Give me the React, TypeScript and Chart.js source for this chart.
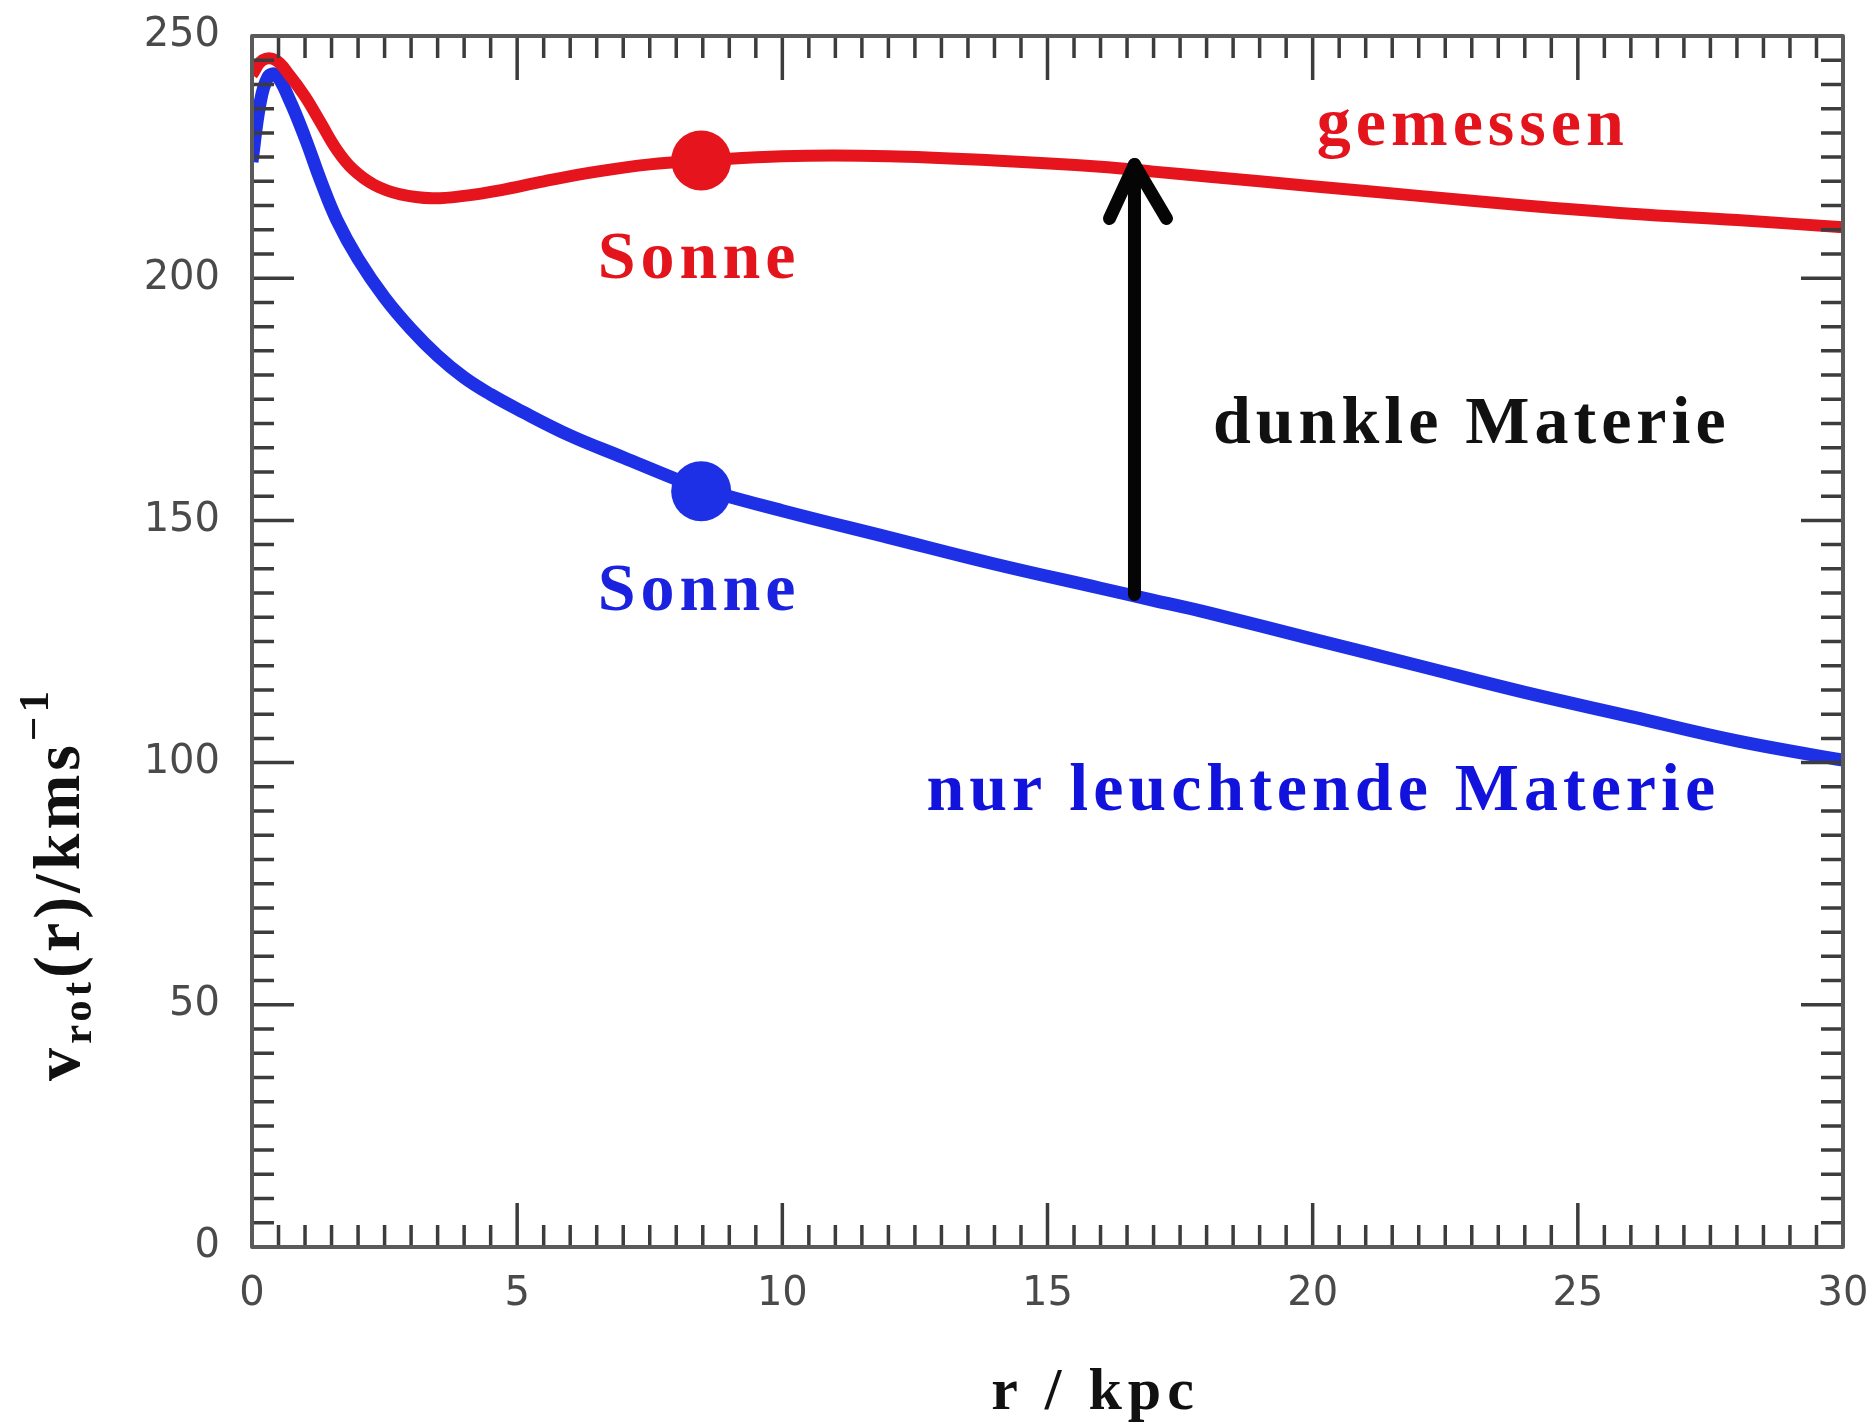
import { useEffect, useRef } from "react";
import { Chart, registerables } from "chart.js";

Chart.register(...registerables);

// ---- data (r in kpc, v in km/s) ----
const measuredR = [0, 0.2, 0.45, 0.7, 1.0, 1.3, 1.6, 1.9, 2.3, 2.8, 3.4, 4.0, 4.7, 5.5, 6.5, 7.5, 8.5, 10, 12, 14, 16, 17, 18, 20, 22, 24, 26, 28, 30];
const measuredV = [242, 245, 245, 242, 237.5, 232, 226.5, 222.5, 219.3, 217.3, 216.5, 217, 218.2, 220, 222, 223.5, 224.3, 225.2, 225.2, 224.3, 223, 222, 221, 219, 217, 215, 213.3, 212, 210.5];

const luminousR = [0, 0.15, 0.3, 0.45, 0.7, 1.0, 1.3, 1.6, 2.0, 2.5, 3.0, 3.5, 4.0, 4.5, 5, 6, 7, 8, 8.5, 10, 12, 14, 16, 17, 18, 20, 22, 24, 26, 28, 30];
const luminousV = [224, 236, 241.5, 242, 237, 229, 220, 212, 204, 196, 189.5, 184, 179.5, 176, 173, 167.5, 163, 158.5, 156.5, 152, 146.5, 141, 136, 133.5, 131, 125.5, 120, 114.5, 109.5, 104.5, 100.5];

const sunR = 8.47;
const sunMeasuredV = 224.3;
const sunLuminousV = 156;

const darkArrowR = 16.64;
const darkArrowFromV = 134.7;
const darkArrowToV = 224.3;

const xTicks = [0, 5, 10, 15, 20, 25, 30];
const yTicks = [0, 50, 100, 150, 200, 250];
const xTickLabels = ["0", "5", "10", "15", "20", "25", "30"];
const yTickLabels = ["0", "50", "100", "150", "200", "250"];
const xMinorStep = 0.5;
const yMinorStep = 5;

const labelTexts = ["gemessen", "Sonne", "dunkle Materie", "Sonne", "nur leuchtende Materie"];
const labelR = [23.02, 8.43, 23.0, 8.43, 20.2];
const labelV = [227.5, 200.0, 166.0, 131.5, 90.2];
const labelColors = ["#e3141c", "#e3141c", "#111111", "#1a22e0", "#1212dd"];

const RED = "#e6141c";
const BLUE = "#1e30e6";

const W = 1876;
const H = 1426;

const decorPlugin = {
  id: "decor",
  afterDatasetsDraw(chart: any) {
    const { ctx, chartArea: a, scales } = chart;
    const x = scales.x;
    const y = scales.y;
    ctx.save();
    // arrow (dunkle Materie)
    const ax = x.getPixelForValue(darkArrowR);
    const ay0 = y.getPixelForValue(darkArrowFromV);
    const ay1 = y.getPixelForValue(darkArrowToV);
    ctx.strokeStyle = "#050505";
    ctx.lineWidth = 13;
    ctx.lineCap = "round";
    ctx.lineJoin = "round";
    ctx.beginPath();
    ctx.moveTo(ax, ay0);
    ctx.lineTo(ax, ay1 + 4);
    ctx.stroke();
    ctx.beginPath();
    ctx.moveTo(ax - 25, ay1 + 58);
    ctx.lineTo(ax, ay1 + 4);
    ctx.lineTo(ax + 32, ay1 + 58);
    ctx.stroke();

    // ticks on all four sides, pointing inwards
    ctx.lineCap = "butt";
    ctx.strokeStyle = "#3c3c3c";
    ctx.lineWidth = 3.5;
    const nx = Math.round((x.max - x.min) / xMinorStep);
    for (let i = 0; i <= nx; i++) {
      const v = x.min + i * xMinorStep;
      const major = xTicks.includes(v);
      const len = major ? 44 : 22;
      const px = x.getPixelForValue(v);
      ctx.beginPath();
      ctx.moveTo(px, a.bottom);
      ctx.lineTo(px, a.bottom - len);
      ctx.moveTo(px, a.top);
      ctx.lineTo(px, a.top + len);
      ctx.stroke();
    }
    const ny = Math.round((y.max - y.min) / yMinorStep);
    for (let i = 0; i <= ny; i++) {
      const v = y.min + i * yMinorStep;
      const major = yTicks.includes(v);
      const len = major ? 42 : 22;
      const py = y.getPixelForValue(v);
      ctx.beginPath();
      ctx.moveTo(a.left, py);
      ctx.lineTo(a.left + len, py);
      ctx.moveTo(a.right, py);
      ctx.lineTo(a.right - len, py);
      ctx.stroke();
    }
    // frame
    ctx.strokeStyle = "#5a5a5a";
    ctx.lineWidth = 4;
    ctx.strokeRect(a.left, a.top, a.right - a.left, a.bottom - a.top);
    ctx.restore();
  },
  afterDraw(chart: any) {
    const { ctx, chartArea: a, scales } = chart;
    const x = scales.x;
    const y = scales.y;
    ctx.save();
    // tick labels
    ctx.fillStyle = "#4a4a4a";
    ctx.font = "40px 'DejaVu Sans'";
    ctx.textAlign = "right";
    ctx.textBaseline = "middle";
    yTicks.forEach((v, i) => {
      ctx.fillText(yTickLabels[i], a.left - 32, y.getPixelForValue(v));
    });
    ctx.textAlign = "center";
    ctx.textBaseline = "top";
    xTicks.forEach((v, i) => {
      ctx.fillText(xTickLabels[i], x.getPixelForValue(v), a.bottom + 28);
    });

    // annotation labels
    (ctx as any).letterSpacing = "5px";
    ctx.font = "bold 68px 'Liberation Serif'";
    ctx.textAlign = "center";
    ctx.textBaseline = "alphabetic";
    labelTexts.forEach((t, i) => {
      ctx.fillStyle = labelColors[i];
      ctx.fillText(t, x.getPixelForValue(labelR[i]), y.getPixelForValue(labelV[i]));
    });

    // x axis title
    ctx.fillStyle = "#111";
    (ctx as any).letterSpacing = "6px";
    ctx.font = "bold 60px 'Liberation Serif'";
    ctx.fillText("r / kpc", (a.left + a.right) / 2 + 48, 1409);

    // y axis title (rotated, with sub/superscript)
    (ctx as any).letterSpacing = "4px";
    const parts = [
      { t: "v", f: "bold 66px 'Liberation Serif'", dy: 0 },
      { t: "rot", f: "bold 43px 'Liberation Serif'", dy: 12 },
      { t: "(r)/kms", f: "bold 66px 'Liberation Serif'", dy: 0 },
      { t: "\u22121", f: "bold 43px 'Liberation Serif'", dy: -31 },
    ];
    let total = 0;
    const widths = parts.map((p) => {
      ctx.font = p.f;
      const w = ctx.measureText(p.t).width;
      total += w;
      return w;
    });
    ctx.translate(79, 884);
    ctx.rotate(-Math.PI / 2);
    ctx.textAlign = "left";
    let cx = -total / 2;
    parts.forEach((p, i) => {
      ctx.font = p.f;
      ctx.fillText(p.t, cx, p.dy);
      cx += widths[i];
    });
    ctx.restore();
  },
};

export default function App() {
  const ref = useRef<HTMLCanvasElement | null>(null);
  useEffect(() => {
    if (!ref.current) return;
    const chart = new Chart(ref.current, {
      type: "line",
      data: {
        datasets: [
          {
            label: "gemessen",
            data: measuredR.map((r, i) => ({ x: r, y: measuredV[i] })),
            borderColor: RED,
            borderWidth: 12,
            pointRadius: 0,
            tension: 0.4,
            fill: false,
          },
          {
            label: "nur leuchtende Materie",
            data: luminousR.map((r, i) => ({ x: r, y: luminousV[i] })),
            borderColor: BLUE,
            borderWidth: 13,
            pointRadius: 0,
            tension: 0.4,
            fill: false,
          },
          {
            label: "Sonne gemessen",
            data: [{ x: sunR, y: sunMeasuredV }],
            showLine: false,
            pointRadius: 30,
            pointBackgroundColor: RED,
            pointBorderWidth: 0,
            borderColor: RED,
          },
          {
            label: "Sonne leuchtend",
            data: [{ x: sunR, y: sunLuminousV }],
            showLine: false,
            pointRadius: 30,
            pointBackgroundColor: BLUE,
            pointBorderWidth: 0,
            borderColor: BLUE,
          },
        ],
      },
      options: {
        animation: false,
        responsive: false,
        devicePixelRatio: 1,
        layout: { padding: { left: 252, right: W - 1843, top: 36, bottom: H - 1247 } },
        plugins: { legend: { display: false }, tooltip: { enabled: false } },
        scales: {
          x: { type: "linear", min: 0, max: 30, display: false },
          y: { type: "linear", min: 0, max: 250, display: false },
        },
      },
      plugins: [decorPlugin],
    });
    return () => chart.destroy();
  }, []);
  return (
    <div style={{ position: "absolute", left: 0, top: 0, width: W, height: H, background: "#fff" }}>
      <canvas ref={ref} width={W} height={H} style={{ display: "block" }} />
    </div>
  );
}
